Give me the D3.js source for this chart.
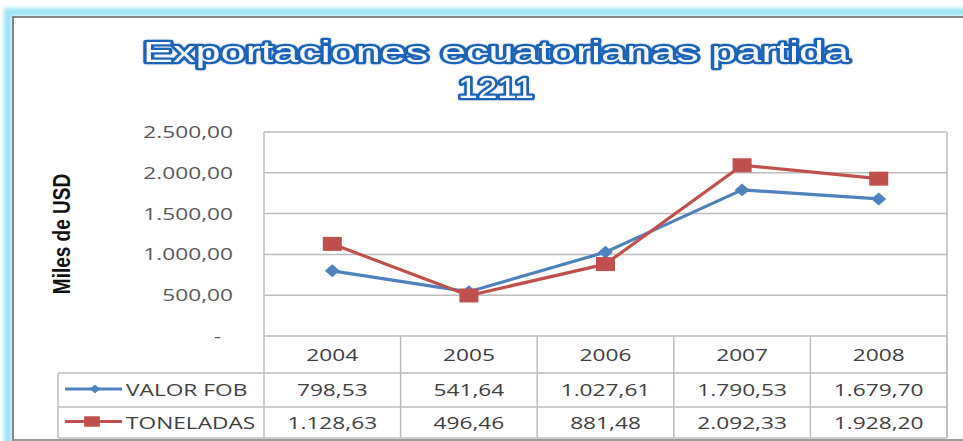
<!DOCTYPE html>
<html>
<head>
<meta charset="utf-8">
<script src="https://cdn.jsdelivr.net/npm/d3@7"></script>
<style>
  html, body { margin: 0; padding: 0; background: #ffffff; }
  svg { display: block; }
</style>
</head>
<body>
<svg id="chart" width="963" height="441"></svg>
<script>
// ---- data ----
const titleLines = ["Exportaciones ecuatorianas partida", "1211"];
const yAxisTitle = "Miles de USD";
const years = ["2004", "2005", "2006", "2007", "2008"];
const seriesNames = ["VALOR FOB", "TONELADAS"];
const valorFob = [798.53, 541.64, 1027.61, 1790.53, 1679.70];
const toneladas = [1128.63, 496.46, 881.48, 2092.33, 1928.20];
const yTicks = [0, 500, 1000, 1500, 2000, 2500];

const seriesColors = ["#4f81bd", "#c0504d"];
const series = [
  { name: seriesNames[0], values: valorFob, color: seriesColors[0], shape: "diamond" },
  { name: seriesNames[1], values: toneladas, color: seriesColors[1], shape: "square" }
];

const loc = d3.formatLocale({ decimal: ",", thousands: ".", grouping: [3], currency: ["", ""] });
const fmt = loc.format(",.2f");
const fmtTick = v => v === 0 ? "-" : fmt(v);

const SX = 1.42; // horizontal stretch of the original picture's text
const svg = d3.select("#chart");
const defs = svg.append("defs");
defs.append("filter").attr("id", "blur2").attr("x", "-20%").attr("y", "-20%").attr("width", "140%").attr("height", "140%")
  .append("feGaussianBlur").attr("stdDeviation", 2);
defs.append("filter").attr("id", "blur1").attr("x", "-20%").attr("y", "-20%").attr("width", "140%").attr("height", "140%")
  .append("feGaussianBlur").attr("stdDeviation", 1);
const glow = defs.append("filter").attr("id", "tglow").attr("x", "-10%").attr("y", "-30%").attr("width", "120%").attr("height", "160%");
glow.append("feGaussianBlur").attr("in", "SourceAlpha").attr("stdDeviation", 1.2).attr("result", "b");
glow.append("feFlood").attr("flood-color", "#6f9bd6").attr("flood-opacity", 0.45);
glow.append("feComposite").attr("in2", "b").attr("operator", "in").attr("result", "g");
const m = glow.append("feMerge");
m.append("feMergeNode").attr("in", "g");
m.append("feMergeNode").attr("in", "SourceGraphic");

// ---- frame ----
svg.append("rect").attr("x", 8).attr("y", 12).attr("width", 1000).attr("height", 500)
  .attr("fill", "none").attr("stroke", "#9be2f4").attr("stroke-width", 8).attr("filter", "url(#blur2)");
svg.append("rect").attr("x", 13).attr("y", 17).attr("width", 1000).attr("height", 500)
  .attr("fill", "#ffffff").attr("stroke", "#858585").attr("stroke-width", 2);
svg.append("line").attr("x1", 13).attr("x2", 963).attr("y1", 440).attr("y2", 440)
  .attr("stroke", "#9a9a9a").attr("stroke-width", 2);
svg.append("line").attr("x1", 20).attr("x2", 20).attr("y1", 26).attr("y2", 441)
  .attr("stroke", "#aaaaaa").attr("stroke-width", 2).attr("filter", "url(#blur1)");
svg.append("line").attr("x1", 959).attr("x2", 959).attr("y1", 32).attr("y2", 441)
  .attr("stroke", "#d4d4d4").attr("stroke-width", 5).attr("filter", "url(#blur2)");
svg.append("line").attr("x1", 24).attr("x2", 958).attr("y1", 437).attr("y2", 437)
  .attr("stroke", "#e2e2e2").attr("stroke-width", 3).attr("filter", "url(#blur1)");

// ---- title ----
const titleG = svg.append("g").attr("filter", "url(#tglow)");
titleG.selectAll("text").data(titleLines).join("text")
  .attr("x", 496)
  .attr("y", (d, i) => i === 0 ? 62 : 98)
  .attr("text-anchor", "middle")
  .attr("font-family", "'Liberation Sans', Arial, sans-serif")
  .attr("font-weight", "normal")
  .attr("font-size", 30)
  .attr("textLength", (d, i) => i === 0 ? 706 : 76)
  .attr("lengthAdjust", "spacingAndGlyphs")
  .attr("fill", "#f6f9fe")
  .attr("stroke", "#1f63b8")
  .attr("stroke-width", 4.6)
  .attr("paint-order", "stroke")
  .attr("stroke-linejoin", "round")
  .text(d => d);

// ---- scales ----
const x = d3.scaleBand().domain(years).range([264, 947]);
const y = d3.scaleLinear().domain([0, 2500]).range([336, 132]);
const cx = d => x(d) + x.bandwidth() / 2;

// ---- gridlines & plot border ----
const grid = svg.append("g");
grid.selectAll("line").data(yTicks).join("line")
  .attr("x1", 264).attr("x2", 947)
  .attr("y1", d => y(d)).attr("y2", d => y(d))
  .attr("stroke", "#bcbcbc").attr("stroke-width", 1.5);
svg.append("line").attr("x1", 264).attr("x2", 264).attr("y1", y(2500)).attr("y2", 438)
  .attr("stroke", "#bcbcbc").attr("stroke-width", 1.5);
svg.append("line").attr("x1", 947).attr("x2", 947).attr("y1", y(2500)).attr("y2", 438)
  .attr("stroke", "#bcbcbc").attr("stroke-width", 1.5);

// ---- y tick labels ----
svg.append("g").selectAll("text").data(yTicks).join("text")
  .attr("transform", d => `translate(${d === 0 ? 221 : 233},${y(d) + 6}) scale(${SX},1)`)
  .attr("text-anchor", "end")
  .attr("font-family", "'Open Sans', sans-serif")
  .attr("font-size", 16)
  .attr("fill", "#595959")
  .text(fmtTick);

// ---- y axis title ----
svg.append("text")
  .attr("transform", `translate(70,234) scale(1.3,1) rotate(-90)`)
  .attr("text-anchor", "middle")
  .attr("font-family", "'Liberation Sans', Arial, sans-serif")
  .attr("font-weight", "bold")
  .attr("font-size", 19)
  .attr("fill", "#111111")
  .text(yAxisTitle);

// ---- data table grid ----
const rowY = [336, 373, 407, 438];
const tbl = svg.append("g").attr("stroke", "#bcbcbc").attr("stroke-width", 1.5);
years.forEach(yr => {
  tbl.append("line").attr("x1", x(yr) + x.bandwidth()).attr("x2", x(yr) + x.bandwidth())
    .attr("y1", rowY[0]).attr("y2", rowY[3]);
});
[1, 2, 3].forEach(i => {
  tbl.append("line").attr("x1", 58).attr("x2", 947).attr("y1", rowY[i]).attr("y2", rowY[i]);
});
tbl.append("line").attr("x1", 58).attr("x2", 58).attr("y1", rowY[1]).attr("y2", rowY[3]);

const tfont = g => g.attr("font-family", "'Open Sans', sans-serif").attr("font-size", 16).attr("fill", "#404040");
svg.append("g").selectAll("text").data(years).join("text")
  .attr("transform", d => `translate(${cx(d)},${(rowY[0] + rowY[1]) / 2 + 6}) scale(${SX},1)`)
  .attr("text-anchor", "middle").call(tfont).text(d => d);

series.forEach((s, si) => {
  const rowMid = (rowY[si + 1] + rowY[si + 2]) / 2 + 6;
  svg.append("g").selectAll("text").data(s.values).join("text")
    .attr("transform", (d, i) => `translate(${cx(years[i])},${rowMid}) scale(${SX},1)`)
    .attr("text-anchor", "middle").call(tfont).text(d => fmt(d));
  // legend key
  const ly = (rowY[si + 1] + rowY[si + 2]) / 2 - 1;
  svg.append("line").attr("x1", 65).attr("x2", 122).attr("y1", ly).attr("y2", ly)
    .attr("stroke", s.color).attr("stroke-width", 3);
  const sym = s.shape === "square" ? d3.symbol(d3.symbolSquare, 110) : d3.symbol(d3.symbolSquare, 36);
  svg.append("path").attr("d", sym())
    .attr("transform", s.shape === "square" ? `translate(92,${ly}) scale(1.5,1)` : `translate(95,${ly}) scale(1.3,1) rotate(45)`)
    .attr("fill", s.color);
  svg.append("text")
    .attr("transform", `translate(126,${rowMid}) scale(${SX},1)`)
    .attr("text-anchor", "start").call(tfont).text(s.name);
});

// ---- lines & markers ----
const line = d3.line().x((d, i) => cx(years[i])).y(d => y(d));
series.forEach(s => {
  svg.append("path").datum(s.values).attr("d", line)
    .attr("fill", "none").attr("stroke", s.color).attr("stroke-width", 3.2).attr("stroke-linejoin", "round");
});
series.forEach(s => {
  const sym = s.shape === "square" ? d3.symbol(d3.symbolSquare, 196) : d3.symbol(d3.symbolSquare, 84);
  svg.append("g").selectAll("path").data(s.values).join("path")
    .attr("d", sym())
    .attr("transform", (d, i) => s.shape === "square"
      ? `translate(${cx(years[i])},${y(d)}) scale(1.36,1)`
      : `translate(${cx(years[i])},${y(d)}) scale(1.15,1) rotate(45)`)
    .attr("fill", s.color);
});
</script>
</body>
</html>
